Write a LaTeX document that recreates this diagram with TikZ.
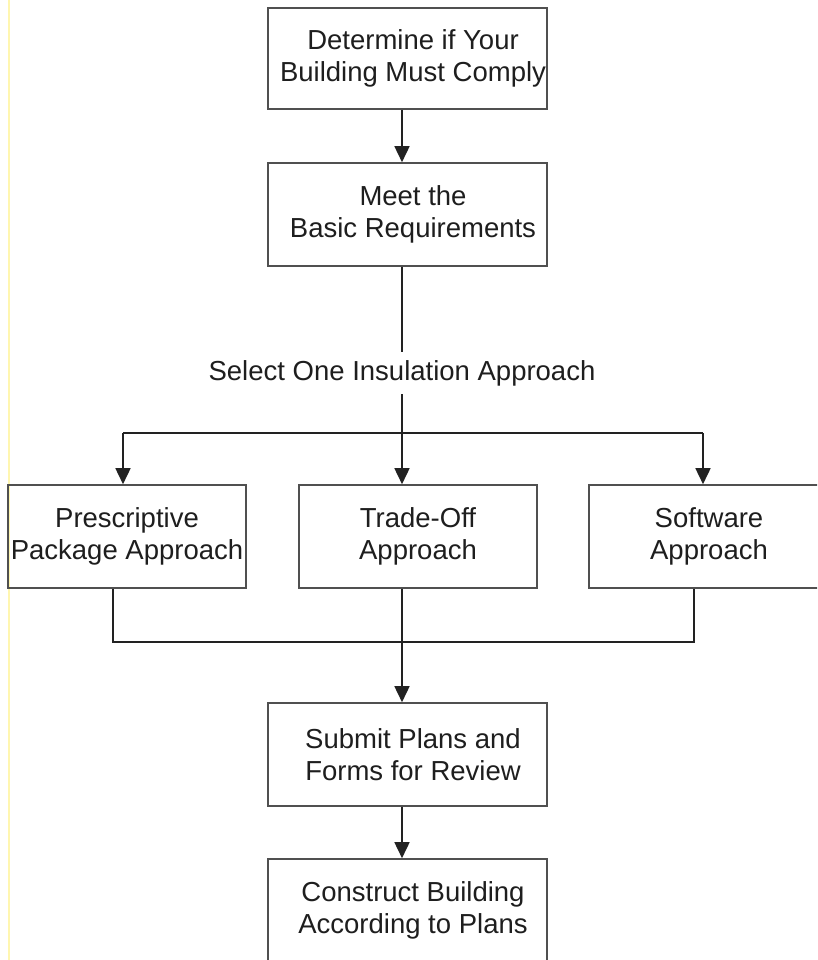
\documentclass[tikz,border=0pt]{standalone}
\usepackage{fontspec}
\setmainfont{Liberation Sans}
\usetikzlibrary{arrows.meta}
\definecolor{boxline}{HTML}{505050}
\definecolor{conn}{HTML}{222222}
\definecolor{txt}{HTML}{1E1E1E}
\definecolor{edgeyellow}{HTML}{FFF6B0}
\newcommand{\rs}{\hspace*{11pt}}
\tikzset{
  stepbox/.style={draw=boxline, line width=1.6pt, rectangle, inner sep=0pt,
    minimum height=103pt, align=center, text=txt,
    font=\fontsize{27.5}{32}\selectfont},
  plain/.style={draw=conn, line width=1.6pt},
  arr/.style={plain, -{Triangle[width=15pt,length=16pt]}},
  lbl/.style={inner sep=0pt, minimum height=42pt, text=txt,
    font=\fontsize{27.5}{32}\selectfont}
}
\begin{document}
\begin{tikzpicture}[x=1pt,y=-1pt]
\useasboundingbox (0,0) rectangle (817,960);
\clip (0,0) rectangle (817,960);
\fill[white] (0,0) rectangle (817,960);
\draw[edgeyellow, line width=2pt] (9,0) -- (9,960);

\node[stepbox, minimum width=279pt, minimum height=101pt] (b1) at (407.5,58.5) {\rs Determine if Your\\\rs Building Must Comply};
\node[stepbox, minimum width=279pt] (b2) at (407.5,214.5) {\rs Meet the\\\rs Basic Requirements};
\node[lbl] (lab) at (402,373) {Select One Insulation Approach};
\node[stepbox, minimum width=238pt] (b3) at (127,536.5) {Prescriptive\\Package Approach};
\node[stepbox, minimum width=238pt] (b4) at (418,536.5) {Trade-Off\\Approach};
\node[stepbox, minimum width=240pt] (b5) at (709,536.5) {Software\\Approach};
\node[stepbox, minimum width=279pt] (b6) at (407.5,754.5) {\rs Submit Plans and\\\rs Forms for Review};
\node[stepbox, minimum width=279pt] (b7) at (407.5,910.5) {\rs Construct Building\\\rs According to Plans};

\coordinate (fl) at (123,433);
\coordinate (fr) at (703,433);
\coordinate (jl) at (113,642);
\coordinate (jr) at (694,642);

\draw[arr] (b1.south -| lab.center) -- (b2.north -| lab.center);
\draw[plain] (b2.south -| lab.center) -- (lab.north);
\draw[arr] (lab.south) -- (b4.north -| lab.center);
\draw[plain] (fl) -- (fr);
\draw[arr] (fl) -- (fl |- b3.north);
\draw[arr] (fr) -- (fr |- b5.north);
\draw[plain] (b3.south -| jl) -- (jl) -- (jr) -- (b5.south -| jr);
\draw[arr] (b4.south -| lab.center) -- (b6.north -| lab.center);
\draw[arr] (b6.south -| lab.center) -- (b7.north -| lab.center);
\end{tikzpicture}
\end{document}
